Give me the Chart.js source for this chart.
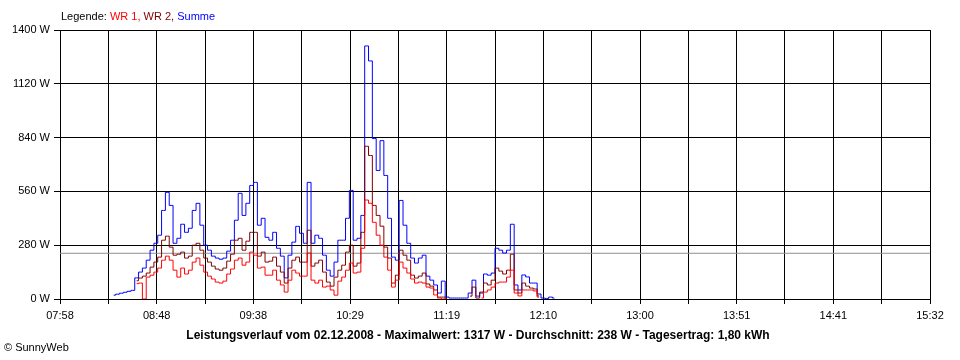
<!DOCTYPE html>
<html>
<head>
<meta charset="utf-8">
<script src="https://cdn.jsdelivr.net/npm/chart.js@4.4.0/dist/chart.umd.min.js"></script>
<style>
  body { margin: 0; background: #fff; }
  #wrap { position: relative; width: 960px; height: 360px; font-family: Arial, "Liberation Sans", sans-serif; }
  #legend { position: absolute; left: 61px; top: 10px; font-size: 11px; color: #000; white-space: nowrap; }
  #title { position: absolute; left: 0; width: 956px; top: 328px; text-align: center; font-size: 12px; font-weight: bold; white-space: nowrap; }
  #copy { position: absolute; left: 4px; top: 341px; font-size: 11px; white-space: nowrap; }
</style>
</head>
<body>
<div id="wrap">
  <canvas id="chart" width="960" height="360"></canvas>
  <div id="legend">Legende: <span style="color:#ff0000">WR 1,</span> <span style="color:#800000">WR 2,</span> <span style="color:#0000ff">Summe</span></div>
  <div id="title">Leistungsverlauf vom 02.12.2008 - Maximalwert: 1317 W - Durchschnitt: 238 W - Tagesertrag: 1,80 kWh</div>
  <div id="copy">© SunnyWeb</div>
</div>
<script>
// time axis: minutes after 07:58, samples every 2 min starting 08:26
const startMinute = 28;
const stepMinutes = 2;
const axisEnd = 454; // 15:32
const xTickLabels = ["07:58", "08:48", "09:38", "10:29", "11:19", "12:10", "13:00", "13:51", "14:41", "15:32"];
const yTicks = [0, 280, 560, 840, 1120, 1400];
const average = 238;

const summe = [
    20, 25, 30, 35, 40, 45, 110, 140, 161, 202,
    254, 290, 332, 461, 555, 487, 290, 316, 389, 347,
    368, 461, 498, 384, 280, 254, 223, 213, 207, 213,
    249, 306, 410, 550, 435, 498, 591, 607, 384, 420,
    321, 306, 347, 264, 223, 110, 228, 296, 378, 342,
    290, 607, 290, 332, 316, 228, 150, 119, 192, 306,
    306, 420, 565, 306, 316, 435, 1317, 1239, 835, 669,
    824, 643, 420, 218, 202, 513, 384, 290, 213, 187,
    213, 228, 119, 98, 73, 31, 93, 10, 5, 5,
    5, 5, 5, 31, 98, 15, 31, 130, 124, 135,
    264, 254, 239, 254, 389, 73, 47, 125, 115, 83,
    83, 26, 5, 3, 10, 5
];
const wr2 = [
    null, null, null, null, null, null, 95, 109, 119, 135,
    166, 192, 218, 306, 327, 270, 228, 233, 244, 213,
    223, 280, 290, 254, 213, 192, 171, 156, 150, 161,
    197, 233, 306, 316, 254, 301, 347, 347, 223, 244,
    192, 197, 218, 171, 140, 83, 161, 202, 218, 192,
    192, 358, 171, 187, 202, 140, 88, 67, 114, 150,
    176, 244, 280, 171, 187, 347, 795, 747, 487, 435,
    379, 270, 213, 83, 124, 254, 228, 202, 124, 109,
    119, 135, 78, 67, 47, 10, 10, 0, null, null,
    null, null, null, 15, 62, 5, 36, 83, 73, 98,
    161, 145, 130, 150, 233, 47, 31, 83, 67, 57,
    52, 16, null, null, null, null
];
const wr1 = [
    null, null, null, null, null, null, 80, 83, 0, 114,
    124, 140, 161, 202, 223, 202, 150, 114, 161, 130,
    150, 192, 213, 176, 140, 119, 104, 88, 83, 93,
    130, 156, 202, 213, 176, 192, 244, 228, 161, 166,
    124, 124, 150, 98, 73, 36, 98, 150, 135, 119,
    119, 239, 98, 83, 98, 62, 67, 47, 20, 93,
    114, 150, 187, 135, 140, 264, 515, 498, 399, 332,
    280, 218, 150, 62, 98, 192, 161, 135, 104, 83,
    88, 83, 62, 57, 21, 5, 0, 0, null, null,
    null, null, null, null, null, null, 5, 36, 47, 62,
    83, 88, 88, 114, 150, 31, 16, 47, 47, 47,
    42, 10, null, null, null, null
];

const toPoints = arr => arr.map((v, i) => ({ x: startMinute + i * stepMinutes, y: v }));

function lineSet(label, data, color) {
    return {
        label, data: toPoints(data), borderColor: color, backgroundColor: color,
        borderWidth: 1, pointRadius: 0, stepped: "middle", spanGaps: false, fill: false
    };
}

const tickFont = { family: "Arial, 'Liberation Sans', sans-serif", size: 11 };

new Chart(document.getElementById("chart"), {
    type: "line",
    data: {
        datasets: [
            lineSet("WR 1", wr1, "#ff0000"),
            lineSet("WR 2", wr2, "#800000"),
            lineSet("Summe", summe, "#0000ff"),
            {
                label: "Durchschnitt",
                data: [{ x: 0, y: average }, { x: axisEnd, y: average }],
                borderColor: "#909090", borderWidth: 1, pointRadius: 0, fill: false
            }
        ]
    },
    options: {
        responsive: false,
        animation: false,
        layout: { padding: { top: 30, right: 30, left: 0, bottom: 0 } },
        plugins: { legend: { display: false }, tooltip: { enabled: false } },
        scales: {
            x: {
                type: "linear",
                min: 0,
                max: axisEnd,
                afterBuildTicks: s => {
                    s.ticks = Array.from({ length: 19 }, (_, i) => ({ value: i * axisEnd / 18 }));
                },
                afterFit: s => { s.height = 61; },
                grid: { color: "#000", lineWidth: 1, tickLength: 5, drawTicks: true },
                border: { color: "#000" },
                ticks: {
                    autoSkip: false, maxRotation: 0, color: "#000", font: tickFont, padding: 5,
                    callback: (v, i) => (i % 2 ? "" : xTickLabels[i / 2])
                }
            },
            y: {
                min: 0,
                max: 1400,
                afterBuildTicks: s => { s.ticks = yTicks.map(v => ({ value: v })); },
                afterFit: s => { s.width = 60; },
                grid: { color: "#000", lineWidth: 1, tickLength: 6 },
                border: { color: "#000" },
                ticks: { color: "#000", font: tickFont, padding: 4, callback: v => v + " W" }
            }
        }
    }
});
</script>
</body>
</html>
